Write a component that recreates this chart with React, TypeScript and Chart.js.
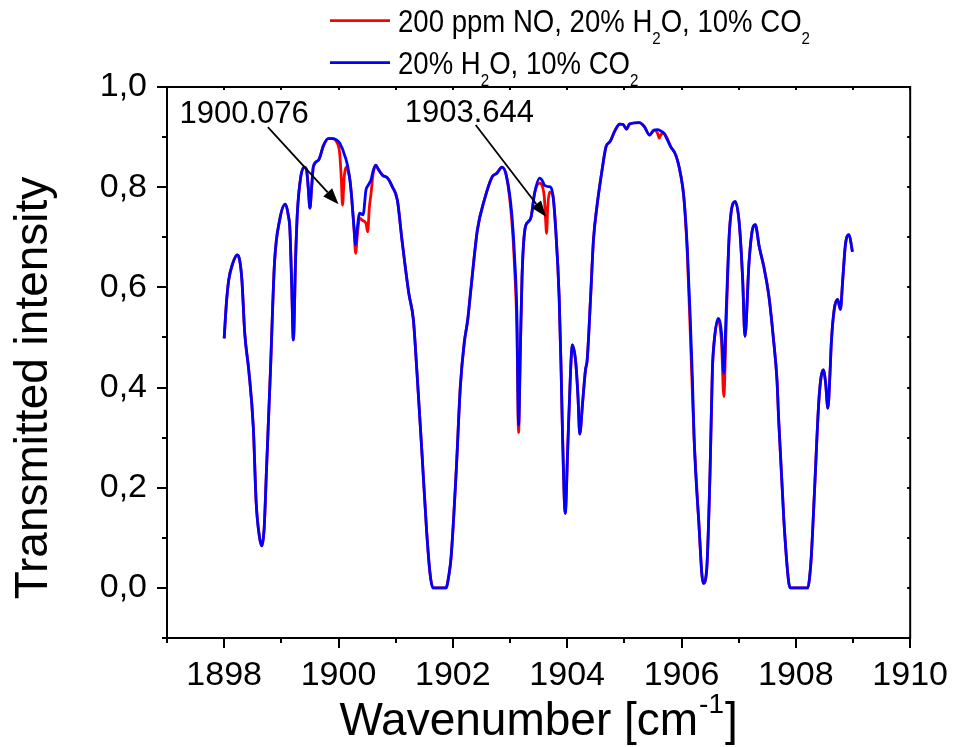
import React, { useEffect, useRef } from 'react';
import { Chart, registerables } from 'chart.js';

Chart.register(...registerables);

const FONT = "'Liberation Sans', Arial, Helvetica, sans-serif";

// Wavenumber grid [cm-1]
const wavenumber = [
  1898.00, 1898.04, 1898.08, 1898.15, 1898.23, 1898.27, 1898.31, 1898.36, 1898.43, 1898.51,
  1898.56, 1898.62, 1898.66, 1898.70, 1898.74, 1898.81, 1898.88, 1898.97, 1899.07, 1899.12,
  1899.15, 1899.18, 1899.21, 1899.25, 1899.28, 1899.34, 1899.40, 1899.44, 1899.47, 1899.50,
  1899.53, 1899.56, 1899.65, 1899.74, 1899.82, 1899.90, 1899.97, 1900.02, 1900.05, 1900.07,
  1900.10, 1900.13, 1900.16, 1900.20, 1900.23, 1900.27, 1900.30, 1900.33, 1900.37, 1900.43,
  1900.48, 1900.51, 1900.54, 1900.57, 1900.60, 1900.65, 1900.70, 1900.77, 1900.86, 1900.94,
  1901.03, 1901.11, 1901.23, 1901.31, 1901.37, 1901.46, 1901.54, 1901.60, 1901.65, 1901.88,
  1901.93, 1901.97, 1902.06, 1902.13, 1902.20, 1902.26, 1902.32, 1902.43, 1902.55, 1902.69,
  1902.77, 1902.86, 1902.94, 1903.03, 1903.08, 1903.12, 1903.15, 1903.18, 1903.21, 1903.26,
  1903.32, 1903.37, 1903.43, 1903.52, 1903.57, 1903.60, 1903.62, 1903.64, 1903.66, 1903.69,
  1903.75, 1903.80, 1903.86, 1903.895, 1903.92, 1903.966, 1904.01, 1904.06, 1904.09, 1904.15,
  1904.19, 1904.22, 1904.27, 1904.32, 1904.35, 1904.41, 1904.46, 1904.52, 1904.61, 1904.68,
  1904.75, 1904.84, 1904.92, 1904.98, 1905.04, 1905.09, 1905.26, 1905.35, 1905.44, 1905.52,
  1905.58, 1905.61, 1905.64, 1905.69, 1905.81, 1905.90, 1905.98, 1906.04, 1906.10, 1906.15,
  1906.19, 1906.22, 1906.30, 1906.38, 1906.44, 1906.50, 1906.54, 1906.57, 1906.64, 1906.70,
  1906.74, 1906.78, 1906.84, 1906.94, 1907.01, 1907.07, 1907.11, 1907.18, 1907.24, 1907.29,
  1907.36, 1907.44, 1907.53, 1907.61, 1907.67, 1907.70, 1907.79, 1907.87, 1907.90, 1908.21,
  1908.24, 1908.27, 1908.33, 1908.40, 1908.44, 1908.48, 1908.52, 1908.56, 1908.60, 1908.62,
  1908.67, 1908.73, 1908.78, 1908.82, 1908.87, 1908.93, 1908.99,
];

// 20% H2O, 10% CO2 (blue)
const intensityH2OCO2 = [
  0.498, 0.570, 0.615, 0.648, 0.665, 0.655, 0.615, 0.508, 0.435, 0.320,
  0.170, 0.100, 0.084, 0.120, 0.235, 0.435, 0.648, 0.734, 0.766, 0.745,
  0.715, 0.610, 0.495, 0.660, 0.748, 0.821, 0.840, 0.835, 0.800, 0.758,
  0.800, 0.841, 0.854, 0.884, 0.897, 0.897, 0.894, 0.888, 0.881, 0.876,
  0.866, 0.856, 0.842, 0.814, 0.780, 0.720, 0.685, 0.720, 0.748, 0.745,
  0.794, 0.802, 0.808, 0.815, 0.830, 0.844, 0.835, 0.824, 0.818, 0.801,
  0.774, 0.695, 0.588, 0.535, 0.435, 0.269, 0.116, 0.030, 0.000, 0.000,
  0.025, 0.062, 0.235, 0.400, 0.490, 0.535, 0.601, 0.715, 0.774, 0.821,
  0.828, 0.840, 0.821, 0.748, 0.660, 0.548, 0.325, 0.470, 0.620, 0.715,
  0.731, 0.741, 0.788, 0.818, 0.812, 0.804, 0.803, 0.802, 0.801, 0.801,
  0.784, 0.715, 0.580, 0.430, 0.300, 0.149, 0.280, 0.435, 0.485, 0.450,
  0.380, 0.307, 0.370, 0.435, 0.455, 0.581, 0.695, 0.761, 0.834, 0.881,
  0.891, 0.914, 0.926, 0.925, 0.916, 0.926, 0.929, 0.921, 0.904, 0.914,
  0.915, 0.914, 0.912, 0.908, 0.881, 0.864, 0.828, 0.781, 0.681, 0.548,
  0.420, 0.300, 0.136, 0.009, 0.036, 0.235, 0.435, 0.490, 0.538, 0.508,
  0.428, 0.548, 0.715, 0.771, 0.728, 0.615, 0.502, 0.648, 0.715, 0.725,
  0.681, 0.641, 0.581, 0.495, 0.415, 0.335, 0.136, 0.016, 0.000, 0.000,
  0.020, 0.062, 0.202, 0.369, 0.420, 0.435, 0.410, 0.359, 0.435, 0.488,
  0.555, 0.576, 0.556, 0.615, 0.688, 0.705, 0.671,
];

// 200 ppm NO, 20% H2O, 10% CO2 (red)
const intensityNOH2OCO2 = [
  0.498, 0.570, 0.615, 0.648, 0.665, 0.655, 0.615, 0.508, 0.435, 0.320,
  0.170, 0.100, 0.084, 0.120, 0.235, 0.435, 0.648, 0.734, 0.766, 0.745,
  0.715, 0.610, 0.495, 0.660, 0.748, 0.821, 0.840, 0.835, 0.800, 0.758,
  0.800, 0.841, 0.854, 0.884, 0.897, 0.897, 0.890, 0.868, 0.815, 0.764,
  0.820, 0.840, 0.835, 0.814, 0.780, 0.720, 0.668, 0.705, 0.738, 0.733,
  0.728, 0.711, 0.760, 0.788, 0.822, 0.844, 0.835, 0.824, 0.818, 0.801,
  0.774, 0.695, 0.588, 0.535, 0.435, 0.269, 0.116, 0.030, 0.000, 0.000,
  0.025, 0.062, 0.235, 0.400, 0.490, 0.535, 0.601, 0.715, 0.774, 0.821,
  0.828, 0.840, 0.821, 0.735, 0.640, 0.520, 0.310, 0.470, 0.620, 0.715,
  0.731, 0.741, 0.788, 0.808, 0.800, 0.780, 0.740, 0.708, 0.760, 0.790,
  0.784, 0.715, 0.580, 0.430, 0.300, 0.149, 0.280, 0.435, 0.485, 0.450,
  0.380, 0.307, 0.370, 0.435, 0.455, 0.581, 0.695, 0.761, 0.834, 0.881,
  0.891, 0.914, 0.926, 0.925, 0.916, 0.926, 0.929, 0.921, 0.904, 0.914,
  0.908, 0.898, 0.905, 0.908, 0.881, 0.864, 0.828, 0.781, 0.670, 0.520,
  0.390, 0.300, 0.136, 0.009, 0.036, 0.235, 0.435, 0.490, 0.535, 0.490,
  0.382, 0.520, 0.715, 0.771, 0.728, 0.615, 0.502, 0.648, 0.715, 0.725,
  0.681, 0.641, 0.581, 0.495, 0.415, 0.335, 0.136, 0.016, 0.000, 0.000,
  0.020, 0.062, 0.202, 0.369, 0.420, 0.435, 0.410, 0.359, 0.435, 0.488,
  0.555, 0.576, 0.556, 0.615, 0.688, 0.705, 0.671,
];

const xMajorTicks = [1898, 1900, 1902, 1904, 1906, 1908, 1910];
const xMinorTicks = [1897, 1899, 1901, 1903, 1905, 1907, 1909];
const yMajorTicks = [0, 0.2, 0.4, 0.6, 0.8, 1.0];
const yMinorTicks = [-0.1, 0.1, 0.3, 0.5, 0.7, 0.9];

// Annotations (data coordinates)
const annotationLabels = ['1900.076', '1903.644'];
const annotationTextAt = [[1898.35, 0.9275], [1902.29, 0.9295]];
const annotationTail = [[1898.765, 0.92], [1902.4, 0.924]];
const annotationTip = [[1900.0, 0.766], [1903.63, 0.741]];

const legendColors = ['#ff0000', '#0000ff'];
const legendParts: [string, boolean][][] = [
  [['200 ppm NO, 20% H', false], ['2', true], ['O, 10% CO', false], ['2', true]],
  [['20% H', false], ['2', true], ['O, 10% CO', false], ['2', true]],
];

function drawRich(ctx: CanvasRenderingContext2D, parts: [string, boolean][], x: number, y: number, main: number, sub: number, subDrop: number, sx: number) {
  ctx.save();
  ctx.translate(x, y);
  ctx.scale(sx, 1);
  let cx = 0;
  for (const [t, isSub] of parts) {
    ctx.font = `${isSub ? sub : main}px ${FONT}`;
    ctx.fillText(t, cx, isSub ? subDrop : 0);
    cx += ctx.measureText(t).width;
  }
  ctx.restore();
}

function richWidth(ctx: CanvasRenderingContext2D, parts: [string, boolean][], main: number, sub: number) {
  let w = 0;
  for (const [t, isSub] of parts) {
    ctx.font = `${isSub ? sub : main}px ${FONT}`;
    w += ctx.measureText(t).width;
  }
  return w;
}

const decorPlugin = {
  id: 'decor',
  afterDraw(chart: any) {
    const ctx: CanvasRenderingContext2D = chart.ctx;
    const { left, right, top, bottom } = chart.chartArea;
    const xs = chart.scales.x;
    const ys = chart.scales.y;
    ctx.save();
    ctx.strokeStyle = '#000';
    ctx.fillStyle = '#000';
    ctx.lineWidth = 2;
    ctx.lineCap = 'butt';
    ctx.strokeRect(left, top, right - left, bottom - top);

    ctx.beginPath();
    const seg = (x1: number, y1: number, x2: number, y2: number) => { ctx.moveTo(x1, y1); ctx.lineTo(x2, y2); };
    xMajorTicks.forEach(v => { const x = Math.round(xs.getPixelForValue(v)); seg(x, bottom, x, bottom + 10); seg(x, top, x, top + 3); });
    xMinorTicks.forEach(v => { const x = Math.round(xs.getPixelForValue(v)); seg(x, bottom, x, bottom + 5); seg(x, top, x, top + 3); });
    yMajorTicks.forEach(v => { const y = Math.round(ys.getPixelForValue(v)); seg(left - 10, y, left, y); seg(right - 3, y, right, y); });
    yMinorTicks.forEach(v => { const y = Math.round(ys.getPixelForValue(v)); seg(left - 5, y, left, y); seg(right - 3, y, right, y); });
    ctx.stroke();

    // annotations
    ctx.font = `31px ${FONT}`;
    ctx.textAlign = 'center';
    ctx.textBaseline = 'alphabetic';
    annotationLabels.forEach((lab, i) => {
      const tx = xs.getPixelForValue(annotationTextAt[i][0]);
      const ty = ys.getPixelForValue(annotationTextAt[i][1]);
      ctx.fillText(lab, tx, ty);
      const x1 = xs.getPixelForValue(annotationTail[i][0]);
      const y1 = ys.getPixelForValue(annotationTail[i][1]);
      const x2 = xs.getPixelForValue(annotationTip[i][0]);
      const y2 = ys.getPixelForValue(annotationTip[i][1]);
      const ang = Math.atan2(y2 - y1, x2 - x1);
      const hl = 16, hw = 6;
      const bx = x2 - hl * Math.cos(ang), by = y2 - hl * Math.sin(ang);
      ctx.lineWidth = 1.8;
      ctx.beginPath();
      ctx.moveTo(x1, y1);
      ctx.lineTo(bx, by);
      ctx.stroke();
      ctx.beginPath();
      ctx.moveTo(x2, y2);
      ctx.lineTo(bx + hw * Math.sin(ang), by - hw * Math.cos(ang));
      ctx.lineTo(bx - hw * Math.sin(ang), by + hw * Math.cos(ang));
      ctx.closePath();
      ctx.fill();
    });

    // legend
    ctx.textAlign = 'left';
    const mainSize = 31, subSize = 17;
    const natural = richWidth(ctx, legendParts[0], mainSize, subSize);
    const sx = 412 / natural;
    const rowsLineY = [20.7, 62.7];
    const rowsBase = [31.7, 74];
    legendParts.forEach((parts, i) => {
      ctx.strokeStyle = legendColors[i];
      ctx.lineWidth = 2.8;
      ctx.beginPath();
      ctx.moveTo(330, rowsLineY[i]);
      ctx.lineTo(390, rowsLineY[i]);
      ctx.stroke();
      ctx.fillStyle = '#000';
      drawRich(ctx, parts, 398, rowsBase[i], mainSize, subSize, 12, sx);
    });

    // x-axis title
    ctx.font = `46px ${FONT}`;
    const w1 = ctx.measureText('Wavenumber [cm').width;
    ctx.font = `28px ${FONT}`;
    const w2 = ctx.measureText('-1').width;
    ctx.font = `46px ${FONT}`;
    const w3 = ctx.measureText(']').width;
    const total = w1 + w2 + w3 + 2;
    let cx = (left + right) / 2 - total / 2;
    const base = 735;
    ctx.fillText('Wavenumber [cm', cx, base);
    cx += w1 + 1;
    ctx.font = `28px ${FONT}`;
    ctx.fillText('-1', cx, base - 22);
    cx += w2 + 1;
    ctx.font = `46px ${FONT}`;
    ctx.fillText(']', cx, base);

    // y-axis title
    ctx.save();
    ctx.translate(46.7, 388);
    ctx.rotate(-Math.PI / 2);
    ctx.textAlign = 'center';
    ctx.font = `46px ${FONT}`;
    ctx.fillText('Transmitted intensity', 0, 0);
    ctx.restore();

    ctx.restore();
  },
};

export default function App() {
  const canvasRef = useRef<HTMLCanvasElement | null>(null);

  useEffect(() => {
    if (!canvasRef.current) return;
    const chart = new Chart(canvasRef.current, {
      type: 'line',
      data: {
        datasets: [
          {
            label: '200 ppm NO, 20% H2O, 10% CO2',
            data: wavenumber.map((x, i) => ({ x, y: intensityNOH2OCO2[i] })),
            borderColor: '#ff0000',
            borderWidth: 2.8,
            pointRadius: 0,
            cubicInterpolationMode: 'monotone',
            borderJoinStyle: 'round',
            order: 1,
          },
          {
            label: '20% H2O, 10% CO2',
            data: wavenumber.map((x, i) => ({ x, y: intensityH2OCO2[i] })),
            borderColor: '#0000ff',
            borderWidth: 2.8,
            pointRadius: 0,
            cubicInterpolationMode: 'monotone',
            borderJoinStyle: 'round',
            order: 0,
          },
        ],
      },
      options: {
        animation: false,
        responsive: false,
        maintainAspectRatio: false,
        devicePixelRatio: 1,
        layout: { padding: { left: 0, right: 42, top: 87, bottom: 0 } },
        plugins: {
          legend: { display: false },
          tooltip: { enabled: false },
          title: { display: false },
        },
        scales: {
          x: {
            type: 'linear',
            min: 1897,
            max: 1910,
            afterBuildTicks: (s: any) => { s.ticks = xMajorTicks.map(v => ({ value: v })); },
            afterFit: (s: any) => { s.height = 109; },
            grid: { display: false, drawTicks: false },
            border: { display: false },
            ticks: {
              color: '#000',
              padding: 17,
              maxRotation: 0,
              autoSkip: false,
              font: { family: FONT, size: 34 },
              callback: (v: any) => String(v),
            },
          },
          y: {
            type: 'linear',
            min: -0.1,
            max: 1.0,
            afterBuildTicks: (s: any) => { s.ticks = yMajorTicks.map(v => ({ value: v })); },
            afterFit: (s: any) => { s.width = 167; },
            grid: { display: false, drawTicks: false },
            border: { display: false },
            ticks: {
              color: '#000',
              padding: 20,
              autoSkip: false,
              font: { family: FONT, size: 34 },
              callback: (v: any) => Number(v).toFixed(1).replace('.', ','),
            },
          },
        },
      } as any,
      plugins: [decorPlugin],
    });
    return () => chart.destroy();
  }, []);

  return (
    <div style={{ position: 'absolute', left: 0, top: 0, width: 965, height: 747, background: '#fff' }}>
      <canvas ref={canvasRef} width={965} height={747} style={{ display: 'block' }} />
    </div>
  );
}
